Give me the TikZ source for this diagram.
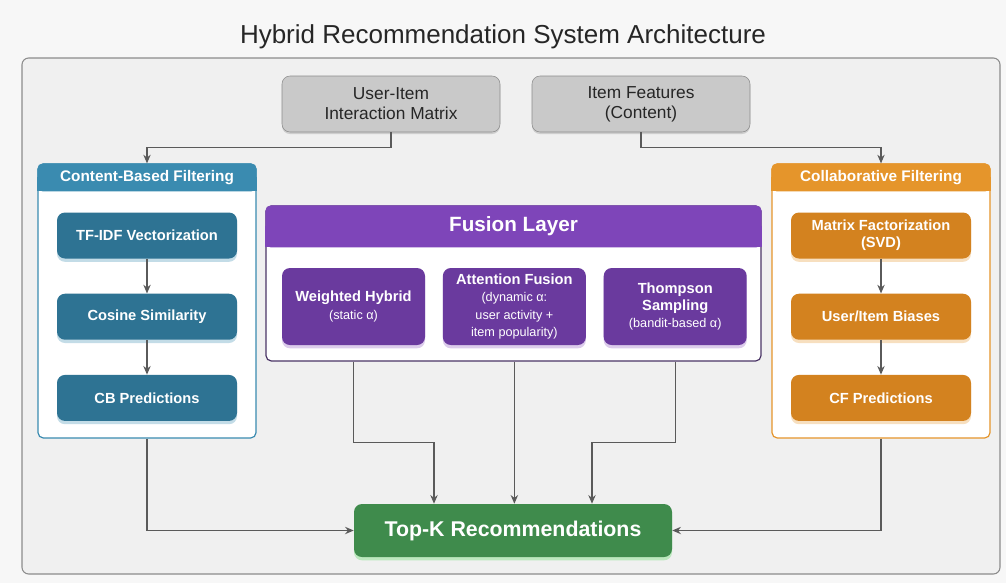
\documentclass[tikz,border=0pt]{standalone}
\usepackage{fontspec}
\setmainfont{Liberation Sans}
\usepackage{xcolor}
\usepackage{tikz}
\usetikzlibrary{arrows.meta, positioning, shadows, calc}

\definecolor{pagebg}{HTML}{F7F7F7}
\definecolor{framebg}{HTML}{F0F0F0}
\definecolor{framegrey}{HTML}{8C8C8C}
\definecolor{inputgrey}{HTML}{C9C9C9}
\definecolor{linegrey}{HTML}{5A5A5A}
\definecolor{cbhead}{HTML}{3A8BB0}
\definecolor{cbfill}{HTML}{2E7393}
\definecolor{cfhead}{HTML}{E5952B}
\definecolor{cffill}{HTML}{D3821F}
\definecolor{fushead}{HTML}{7E45B9}
\definecolor{fusfill}{HTML}{6A3A9E}
\definecolor{fusline}{HTML}{4B3566}
\definecolor{topgreen}{HTML}{3F8B4C}

\tikzstyle{arrow} = [line width=1pt, draw=linegrey, ->, >={Stealth[length=6.5pt, width=5.5pt]}]
\tikzstyle{inputbox} = [rectangle, rounded corners=6pt, minimum width=163.5pt, minimum height=42pt, align=center, draw=framegrey, fill=inputgrey, text=black!85, font=\fontsize{13}{15}\selectfont, drop shadow={shadow xshift=0pt, shadow yshift=-1.5pt, opacity=0.3}]
\tikzstyle{group} = [rectangle, rounded corners=4pt, minimum width=163.5pt, minimum height=205.5pt, fill=white, line width=0.9pt]
\tikzstyle{grouptitle} = [text=white, font=\bfseries\fontsize{11.5}{13}\selectfont]
\tikzstyle{stage} = [rectangle, rounded corners=6pt, minimum width=135pt, minimum height=34.5pt, align=center, text=white, font=\bfseries\fontsize{11}{13}\selectfont]
\tikzstyle{cbstage} = [stage, fill=cbfill, drop shadow={shadow xshift=0pt, shadow yshift=-2.5pt, fill=cbhead!50, opacity=0.6}]
\tikzstyle{cfstage} = [stage, fill=cffill, drop shadow={shadow xshift=0pt, shadow yshift=-2.5pt, fill=cfhead!50, opacity=0.6}]
\tikzstyle{fusstage} = [stage, minimum width=107.25pt, minimum height=57.75pt, fill=fusfill, drop shadow={shadow xshift=0pt, shadow yshift=-2.5pt, fill=fushead!45, opacity=0.6}]
\newcommand{\subtxt}[1]{{\mdseries\fontsize{9.5}{10.5}\selectfont #1}}

\begin{document}
\begin{tikzpicture}[x=0.75pt, y=-0.75pt, node distance=26pt]

% page and outer frame
\useasboundingbox[fill=pagebg] (0,0) rectangle (1006,583);
\draw[framegrey, fill=framebg, rounded corners=5pt, line width=0.8pt] (22,58) rectangle (1000,574);
\node[font=\fontsize{19.5}{23}\selectfont, text=black!85] (title) at (503,37) {Hybrid Recommendation System Architecture};

% inputs
\node[inputbox] (uim) at (391,104) {User-Item\\Interaction Matrix};
\node[inputbox] (feat) at (641,104) {Item Features\\(Content)};

% content-based branch
\node[group, draw=cbhead] (cb) at (147,301) {};
\fill[cbhead, rounded corners=4pt] (cb.north west) rectangle ($(cb.north east)+(0,28)$);
\fill[cbhead] ($(cb.north west)+(0,14)$) rectangle ($(cb.north east)+(0,28)$);
\node[grouptitle] (cbtitle) at ($(cb.north)+(0,14)$) {Content-Based Filtering};
\node[cbstage] (tfidf) at (147,235.5) {TF-IDF Vectorization};
\node[cbstage, below=of tfidf] (cos) {Cosine Similarity};
\node[cbstage, below=of cos] (cbpred) {CB Predictions};

% collaborative branch
\node[group, draw=cfhead] (cf) at (881,301) {};
\fill[cfhead, rounded corners=4pt] (cf.north west) rectangle ($(cf.north east)+(0,28)$);
\fill[cfhead] ($(cf.north west)+(0,14)$) rectangle ($(cf.north east)+(0,28)$);
\node[grouptitle] (cftitle) at ($(cf.north)+(0,14)$) {Collaborative Filtering};
\node[cfstage] (mf) at (881,235.5) {Matrix Factorization\\(SVD)};
\node[cfstage, below=of mf] (bias) {User/Item Biases};
\node[cfstage, below=of bias] (cfpred) {CF Predictions};

% fusion layer
\node[group, draw=fusline, minimum width=371.25pt, minimum height=116.25pt] (fus) at (513.5,283.5) {};
\fill[fushead, rounded corners=4pt] (fus.north west) rectangle ($(fus.north east)+(0,42)$);
\fill[fushead] ($(fus.north west)+(0,21)$) rectangle ($(fus.north east)+(0,42)$);
\node[text=white, font=\bfseries\fontsize{15.5}{18}\selectfont] (fustitle) at ($(fus.north)+(0,21)$) {Fusion Layer};
\node[fusstage] (wh) at (353.5,306.5) {Weighted Hybrid\\\subtxt{(static α)}};
\node[fusstage, right=13pt of wh] (att) {Attention Fusion\\\subtxt{(dynamic α:}\\\subtxt{user activity +}\\\subtxt{item popularity)}};
\node[fusstage, right=13pt of att] (ts) {Thompson\\Sampling\\\subtxt{(bandit-based α)}};

% output
\node[stage, fill=topgreen, minimum width=238.5pt, minimum height=39.75pt, font=\bfseries\fontsize{16}{19}\selectfont, drop shadow={shadow xshift=0pt, shadow yshift=-2.5pt, fill=green!45!topgreen!40, opacity=0.7}] (topk) at (513,530.5) {Top-K Recommendations};

% connectors
\draw[arrow] (uim.south) |- ([yshift=12pt]cb.north) -- (cb.north);
\draw[arrow] (feat.south) |- ([yshift=12pt]cf.north) -- (cf.north);
\draw[arrow] (tfidf) -- (cos);
\draw[arrow] (cos) -- (cbpred);
\draw[arrow] (mf) -- (bias);
\draw[arrow] (bias) -- (cfpred);
\draw[arrow] (cb.south) |- (topk.west);
\draw[arrow] (cf.south) |- (topk.east);
\draw[arrow] (wh |- fus.south) -- ++(0,81) -| ($(topk.north)+(-79,0)$);
\draw[arrow] (att |- fus.south) -- (att |- topk.north);
\draw[arrow] (ts |- fus.south) -- ++(0,81) -| ($(topk.north)+(79,0)$);

\end{tikzpicture}
\end{document}
